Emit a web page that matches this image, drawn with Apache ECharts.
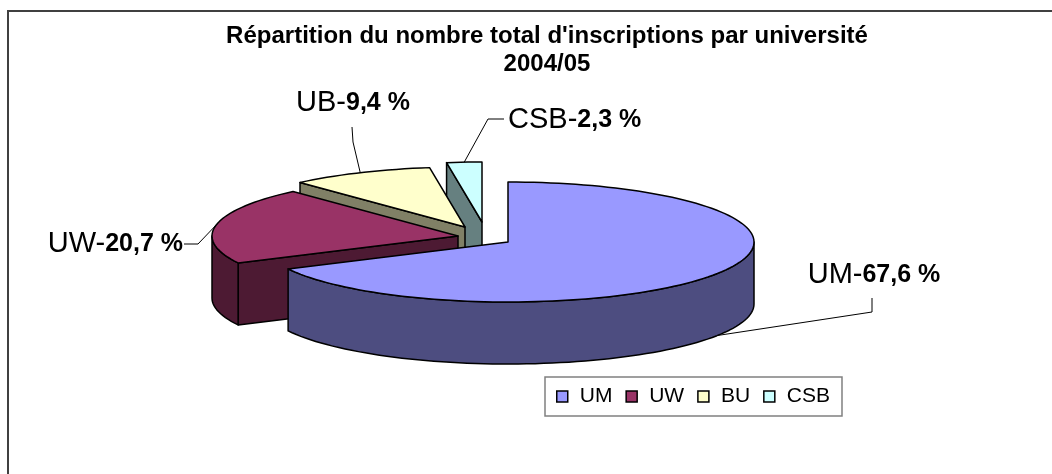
<!DOCTYPE html>
<html>
<head>
<meta charset="utf-8">
<script src="https://cdn.jsdelivr.net/npm/echarts@6/dist/echarts.min.js"></script>
<style>
  html, body { margin: 0; background: #fff; }
  #chart { width: 1052px; height: 474px; }
</style>
</head>
<body>
<div id="chart"></div>
<script>
// données : répartition des inscriptions 2004/05
const universites = ['UM', 'UW', 'BU', 'CSB'];
const etiquettes = ['UM', 'UW', 'UB', 'CSB']; // libellés tels qu'écrits sur le graphique
const parts = [67.6, 20.7, 9.4, 2.3];

const couleurs = ['#9999FF', '#993366', '#FFFFCC', '#CCFFFF'];
const cotes = ['#4D4D80', '#4D1A33', '#808066', '#668080'];

// géométrie de la tarte 3D (ellipse vue en perspective)
const centre = [470, 232];
const rx = 246, ry = 60, epaisseur = 62;
const decalages = [[38, 10], [-12, 4], [-5, -5], [12, -10]];
// lignes de rappel : coude, bout, position du texte
const rappels = [
  { coude: [872, 312], fin: [872, 298], texte: [874, 275], align: 'center' },
  { coude: [198, 244], fin: [184, 244], texte: [183, 244], align: 'right' },
  { coude: [353, 142], fin: [352, 127], texte: [353, 103], align: 'center' },
  { coude: [488, 119], fin: [504, 119], texte: [508, 120], align: 'left' }
];

const total = parts.reduce((a, b) => a + b, 0);
const angles = parts.map(v => v / total * 360);
const debuts = angles.map((a, i) => angles.slice(0, i).reduce((s, x) => s + x, 0));

const police = "'Liberation Sans', Arial, sans-serif";

function pt(sommet, deg, dz) {
  const r = deg * Math.PI / 180;
  return [sommet[0] + rx * Math.sin(r), sommet[1] - ry * Math.cos(r) + dz];
}

function arc(sommet, d0, d1, dz) {
  const pts = [];
  const n = Math.max(2, Math.ceil((d1 - d0) / 2));
  for (let k = 0; k <= n; k++) pts.push(pt(sommet, d0 + (d1 - d0) * k / n, dz));
  return pts;
}

function dessinerTranche(i) {
  return function (params, api) {
    const a0 = debuts[i], a1 = a0 + angles[i];
    const sommet = [centre[0] + decalages[i][0], centre[1] + decalages[i][1]];
    const trait = { stroke: '#000', lineWidth: 1.5, lineJoin: 'round' };
    const enfants = [];

    // faces de coupe visibles
    [[a0, a0 - 90], [a1, a1 + 90]].forEach(([a, normale]) => {
      if (Math.cos(normale * Math.PI / 180) < -0.01) {
        const bord = pt(sommet, a, 0);
        enfants.push({
          type: 'polygon',
          shape: { points: [sommet, bord, [bord[0], bord[1] + epaisseur], [sommet[0], sommet[1] + epaisseur]] },
          style: Object.assign({ fill: cotes[i] }, trait)
        });
      }
    });

    // paroi extérieure côté avant
    const p0 = Math.max(a0, 90), p1 = Math.min(a1, 270);
    if (p1 > p0) {
      const haut = arc(sommet, p0, p1, 0);
      const bas = arc(sommet, p0, p1, epaisseur).reverse();
      enfants.push({
        type: 'polygon',
        shape: { points: haut.concat(bas) },
        style: Object.assign({ fill: cotes[i] }, trait)
      });
    }

    // dessus
    enfants.push({
      type: 'polygon',
      shape: { points: [sommet].concat(arc(sommet, a0, a1, 0)) },
      style: Object.assign({ fill: couleurs[i] }, trait)
    });

    // ligne de rappel
    const milieu = a0 + angles[i] / 2;
    const devant = milieu > 90 && milieu < 270;
    const depart = pt(sommet, milieu, devant ? epaisseur : 0);
    const r = rappels[i];
    enfants.push({
      type: 'polyline',
      shape: { points: [depart, r.coude, r.fin] },
      style: { stroke: '#000', lineWidth: 1, fill: null }
    });

    // étiquette
    enfants.push({
      type: 'text',
      x: r.texte[0],
      y: r.texte[1],
      style: {
        text: '{n|' + etiquettes[i] + '-}{b|' + parts[i].toFixed(1).replace('.', ',') + ' %}',
        align: r.align,
        verticalAlign: 'middle',
        rich: {
          n: { fontSize: 29, fontFamily: police, color: '#000' },
          b: { fontSize: 25, fontWeight: 'bold', fontFamily: police, color: '#000' }
        }
      }
    });

    return { type: 'group', children: enfants };
  };
}

const chart = echarts.init(document.getElementById('chart'));

chart.setOption({
  animation: false,
  backgroundColor: '#fff',
  title: {
    text: "Répartition du nombre total d'inscriptions par université\n2004/05",
    left: 542,
    top: 17,
    textAlign: 'center',
    textStyle: { fontSize: 24, fontWeight: 'bold', fontFamily: police, color: '#000', lineHeight: 28 }
  },
  legend: {
    data: universites,
    left: 545,
    top: 377,
    orient: 'horizontal',
    icon: 'rect',
    itemWidth: 11,
    itemHeight: 11,
    itemGap: 13,
    padding: [9, 12, 9, 11],
    borderColor: '#808080',
    borderWidth: 1.5,
    itemStyle: { borderColor: '#000', borderWidth: 1.5 },
    textStyle: { fontSize: 21, fontFamily: police, color: '#000', padding: [0, 0, 0, 7] },
    selectedMode: false
  },
  graphic: [{
    type: 'rect',
    shape: { x: 8, y: 11, width: 1100, height: 600 },
    style: { fill: 'transparent', stroke: '#404040', lineWidth: 2 },
    silent: true
  }],
  series: universites.map((nom, i) => ({
    type: 'custom',
    name: nom,
    coordinateSystem: 'none',
    silent: true,
    z: 2 + universites.length - i,
    itemStyle: { color: couleurs[i] },
    renderItem: dessinerTranche(i),
    data: [parts[i]]
  }))
});
</script>
</body>
</html>
